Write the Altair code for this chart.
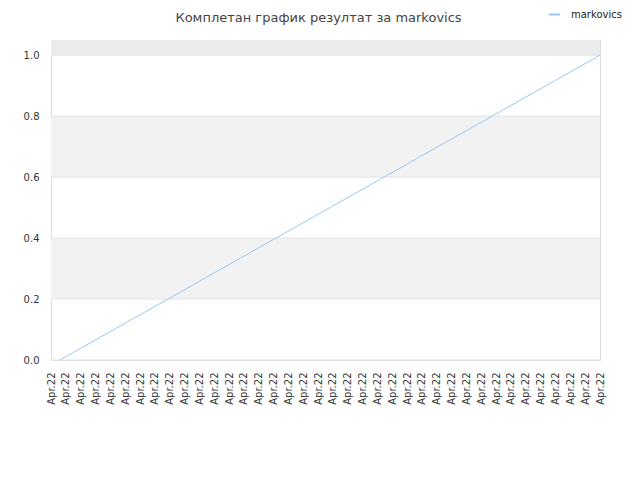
import altair as alt
import pandas as pd

# data
series_name = "markovics"
x_index = [0.6, 37]
y_values = [0.0, 1.0]
tick_positions = list(range(38))
tick_label = "Apr.22"
y_ticks = [0.0, 0.2, 0.4, 0.6, 0.8, 1.0]
band_low = [0.2, 0.6, 1.0]
band_high = [0.4, 0.8, 1.05]
band_fill = ["#f2f2f2", "#f2f2f2", "#ececec"]

line_df = pd.DataFrame({"x": x_index, "y": y_values, "series": [series_name] * len(x_index)})
band_df = pd.DataFrame({"lo": band_low, "hi": band_high, "fill": band_fill})

xscale = alt.Scale(domain=[0, 37], nice=False, zero=False)
yscale = alt.Scale(domain=[0, 1.05], nice=False)

y_axis = alt.Axis(
    values=y_ticks,
    format=".1f",
    labelFontSize=10,
    labelFont="DejaVu Sans",
    labelColor="#333333",
    labelPadding=12,
    labelFlush=False,
    ticks=False,
    domain=False,
    grid=False,
)

bands = alt.Chart(band_df).mark_rect().encode(
    y=alt.Y("lo:Q", scale=yscale, axis=y_axis, title=None),
    y2="hi:Q",
    color=alt.Color("fill:N", scale=None),
)

grid = alt.Chart(pd.DataFrame({"t": y_ticks})).mark_rule(color="#e3e3e3", strokeWidth=1).encode(
    y=alt.Y("t:Q", scale=yscale, axis=y_axis, title=None)
)

line = alt.Chart(line_df).mark_line(strokeWidth=1).encode(
    x=alt.X(
        "x:Q",
        scale=xscale,
        title=None,
        axis=alt.Axis(
            values=tick_positions,
            labelExpr=f"'{tick_label}'",
            labelAngle=-90,
            labelAlign="right",
            labelBaseline="middle",
            labelPadding=12,
            labelFontSize=10,
            labelFont="DejaVu Sans",
            labelColor="#333333",
            labelOverlap=False,
            labelFlush=False,
            ticks=False,
            domain=False,
            grid=False,
        ),
    ),
    y=alt.Y("y:Q", scale=yscale, title=None, axis=y_axis),
    color=alt.Color(
        "series:N",
        scale=alt.Scale(range=["#99c8f5"]),
        legend=alt.Legend(
            title=None,
            orient="none",
            legendX=497,
            legendY=-32,
            padding=0,
            symbolType="stroke",
            symbolSize=120,
            symbolStrokeWidth=2,
            labelOffset=10,
            labelFont="DejaVu Sans",
            labelFontSize=10,
            labelColor="#222222",
        ),
    ),
)

chart = (
    alt.layer(bands, grid, line)
    .properties(
        width=549,
        height=320,
        padding={"left": 43, "top": 32, "right": 32, "bottom": 110},
        autosize=alt.AutoSizeParams(type="none"),
        title=alt.TitleParams(
            "Комплетан график резултат за markovics",
            font="DejaVu Sans",
            fontSize=13,
            fontWeight="normal",
            color="#444444",
            anchor="middle",
            dx=-7,
            offset=-17,
        ),
    )
    .configure_view(stroke="#dddddd", strokeWidth=1)
)

chart.save("out.html", embed_options={"renderer": "svg", "actions": False})
